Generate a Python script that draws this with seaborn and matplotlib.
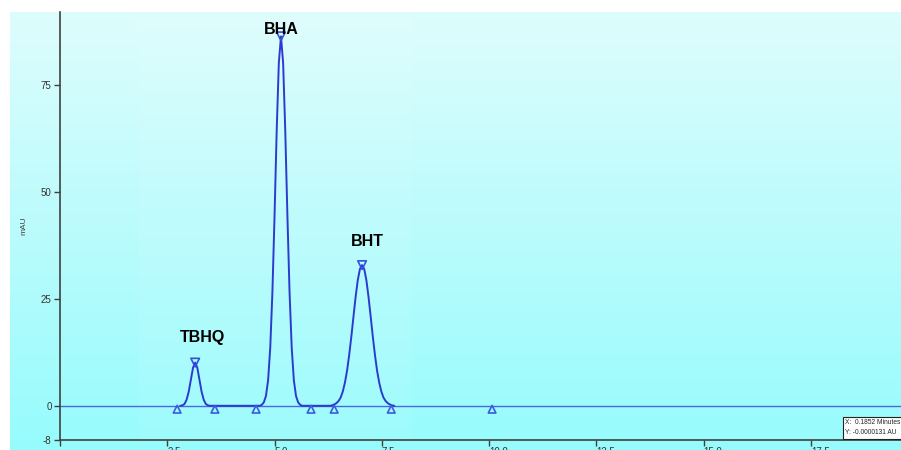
import numpy as np
import pandas as pd
import matplotlib.pyplot as plt
import seaborn as sns

# retention time (min) / signal (mAU)
tbhq_t = [2.80, 2.85, 2.90, 2.95, 3.00, 3.05, 3.10, 3.15, 3.20, 3.25, 3.30, 3.35, 3.40, 3.45, 3.50]
tbhq_y = [0.0, 0.1, 0.4, 1.4, 3.3, 6.1, 8.9, 10.1, 8.9, 6.1, 3.3, 1.4, 0.4, 0.1, 0.0]

bha_t = [4.65, 4.70, 4.75, 4.80, 4.85, 4.90, 4.95, 5.00, 5.05, 5.10, 5.15,
         5.20, 5.25, 5.30, 5.35, 5.40, 5.45, 5.50, 5.55, 5.60, 5.65]
bha_y = [0.0, 0.2, 0.8, 2.3, 6.0, 13.6, 26.5, 44.4, 64.3, 80.2, 86.4,
         80.2, 64.3, 44.4, 26.5, 13.6, 6.0, 2.3, 0.8, 0.2, 0.0]

bht_t = [6.29, 6.34, 6.39, 6.44, 6.49, 6.54, 6.59, 6.64, 6.69, 6.74, 6.79, 6.84, 6.89, 6.94, 6.99,
         7.04,
         7.09, 7.14, 7.19, 7.24, 7.29, 7.34, 7.39, 7.44, 7.49, 7.54, 7.59, 7.64, 7.69, 7.74, 7.79]
bht_y = [0.0, 0.1, 0.3, 0.6, 1.1, 1.9, 3.3, 5.4, 8.2, 11.9, 16.2, 20.9, 25.5, 29.4, 32.0,
         32.9,
         32.0, 29.4, 25.5, 20.9, 16.2, 11.9, 8.2, 5.4, 3.3, 1.9, 1.1, 0.6, 0.3, 0.1, 0.0]

run_start, run_end = 0.0, 19.6

peak_names = ['TBHQ', 'BHA', 'BHT']
peak_rt = [3.15, 5.15, 7.04]
peak_height = [10.1, 86.4, 32.9]
label_x = [3.31, 5.15, 7.16]
label_y = [15.9, 88.1, 38.4]

# integration start/end marks
base_marks = [2.73, 3.61, 4.57, 5.85, 6.39, 7.72, 10.07]
base_mark_y = -0.8

x_ticks = [0.0, 2.5, 5.0, 7.5, 10.0, 12.5, 15.0, 17.5]
x_labels = ['', '2.5', '5.0', '7.5', '10.0', '12.5', '15.0', '17.5']
y_ticks = [-8, 0, 25, 50, 75]

trace = pd.DataFrame({
    'time': tbhq_t + bha_t + bht_t,
    'mAU': tbhq_y + bha_y + bht_y,
})

sns.set_style('ticks')
plt.rcParams['font.family'] = ['Liberation Sans', 'DejaVu Sans']

W, H = 901, 450
fig = plt.figure(figsize=(W / 100, H / 100), dpi=100)

# cyan gradient panel behind the plot
bg = fig.add_axes([10 / W, 0, (W - 10) / W, (H - 12) / H], zorder=0)
top = np.array([0.87, 0.99, 0.99])
bot = np.array([0.59, 0.985, 0.99])
g = np.linspace(0, 1, 256)[:, None, None]
grad = top * (1 - g) + bot * g
grad = np.repeat(grad, 2, axis=1)
bg.imshow(grad, aspect='auto', extent=[0, 1, 0, 1])
bg.axis('off')

ax = fig.add_axes([60 / W, 10 / H, (W - 60) / W, (440 - 12) / H], zorder=1)
ax.patch.set_alpha(0)

# slightly lighter band around the peak window
ax.axvspan(1.85, 8.2, color='white', alpha=0.06, lw=0, zorder=0)

ax.axhline(0, color='#4a68e4', lw=1.0, zorder=1)
sns.lineplot(data=trace, x='time', y='mAU', ax=ax, color='#2b3bd0', lw=1.4,
             sort=False, estimator=None, zorder=2)

ax.scatter(peak_rt, peak_height, marker='v', s=38, facecolors='none',
           edgecolors='#3550dd', linewidths=1.2, zorder=3)
ax.scatter(base_marks, [base_mark_y] * len(base_marks), marker='^', s=30,
           facecolors='none', edgecolors='#3a5be0', linewidths=1.2, zorder=3)

for name, lx, ly in zip(peak_names, label_x, label_y):
    ax.text(lx, ly, name, ha='center', va='center', fontsize=11.5,
            fontweight='bold', color='black', zorder=4)

ax.set_xlim(run_start, run_end)
ax.set_ylim(-8, 92.1)
ax.set_xticks(x_ticks)
ax.set_xticklabels(x_labels, ha='left', fontsize=7, color='#333333')
ax.set_yticks(y_ticks)
ax.set_yticklabels([str(v) for v in y_ticks], fontsize=7, color='#333333')
ax.tick_params(axis='both', length=4, width=1, color='#404040', pad=2)
ax.tick_params(axis='x', pad=1)
ax.set_xlabel('')
ax.set_ylabel('mAU', fontsize=6, color='#444444', labelpad=10)

sns.despine(ax=ax)
for side in ['left', 'bottom']:
    ax.spines[side].set_color('#404040')
    ax.spines[side].set_linewidth(1.2)

fig.text(845 / W, 1 - 428 / H, 'X:  0.1852 Minutes\nY: -0.0000131 AU',
         fontsize=4.8, va='center', ha='left', linespacing=1.6, zorder=5,
         bbox=dict(boxstyle='square,pad=0.35', fc='white', ec='#222222', lw=0.8))

fig.savefig('out.png', dpi=100)
